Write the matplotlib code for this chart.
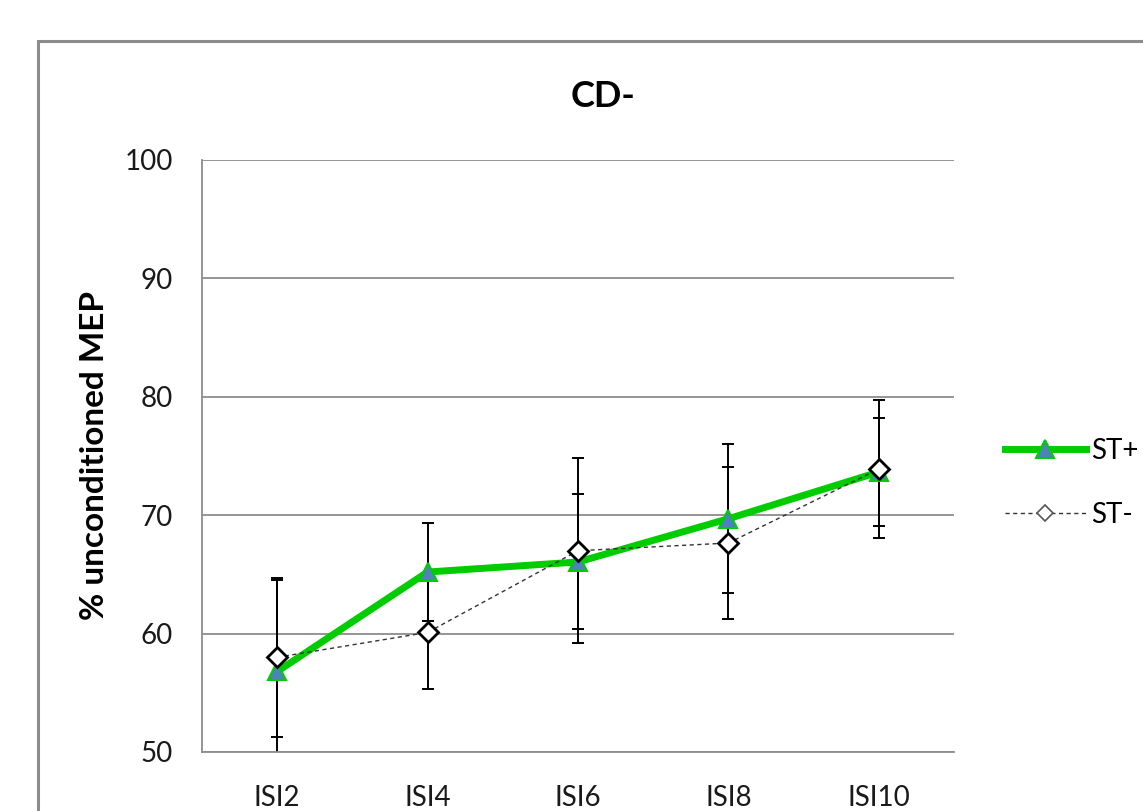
import matplotlib
matplotlib.use('Agg')
import matplotlib.pyplot as plt
from matplotlib.patches import Rectangle

plt.rcParams['font.family'] = ['Lato', 'DejaVu Sans']

categories = ['ISI2', 'ISI4', 'ISI6', 'ISI8', 'ISI10']
st_plus = [56.8, 65.2, 66.05, 69.7, 73.65]
st_plus_err = [7.7, 4.15, 5.7, 6.3, 4.6]
st_minus = [58.0, 60.1, 67.0, 67.65, 73.9]
st_minus_err = [6.7, 4.8, 7.8, 6.45, 5.8]
yticks = [50, 60, 70, 80, 90, 100]

fig = plt.figure(figsize=(11.43, 8.11), dpi=100)

# outer chart-area frame, running off the right and bottom edges
frame = Rectangle((38 / 1143, -0.1), 1.2, 0.1 + (811 - 41) / 811,
                  transform=fig.transFigure, fill=False,
                  edgecolor='#8c8c8c', linewidth=2.2, clip_on=False)
fig.patches.append(frame)

ax = fig.add_axes([202 / 1143, 1 - 752 / 811, 752 / 1143, 592 / 811])
x = list(range(len(categories)))

ax.errorbar(x, st_plus, yerr=st_plus_err, fmt='none', ecolor='black',
            elinewidth=1.4, capsize=4.3, capthick=1.4, zorder=2)
ax.errorbar(x, st_minus, yerr=st_minus_err, fmt='none', ecolor='black',
            elinewidth=1.4, capsize=4.3, capthick=1.4, zorder=2)

ax.plot(x, st_plus, color='#00cc00', linewidth=5, marker='^',
        markersize=13, markerfacecolor='#4f81bd', markeredgecolor='#00cc00',
        markeredgewidth=1.5, label='ST+', zorder=3)
ax.plot(x, st_minus, color='#333333', linewidth=1.0, linestyle=(0, (3, 2.5)),
        marker='D', markersize=10, markerfacecolor='white',
        markeredgecolor='black', markeredgewidth=2, label='ST-', zorder=4)

ax.set_xlim(-0.5, 4.5)
ax.set_ylim(50, 100)
ax.set_xticks(x)
ax.set_xticklabels(categories)
ax.set_yticks(yticks)
ax.tick_params(axis='both', length=0, labelsize=20, colors='#1a1a1a')
ax.tick_params(axis='x', pad=24)
ax.tick_params(axis='y', pad=21)
ax.grid(axis='y', color='#8c8c8c', linewidth=1.3)
ax.set_axisbelow(True)
for side in ['top', 'right']:
    ax.spines[side].set_visible(False)
for side in ['left', 'bottom']:
    ax.spines[side].set_color('#8c8c8c')
    ax.spines[side].set_linewidth(1.3)

# title is centred on the whole chart area, not the plot area
ax.set_title('CD-', fontsize=26, fontweight='bold', pad=38, x=0.533)
ax.set_ylabel('% unconditioned MEP', fontsize=24, fontweight='bold', labelpad=11)

leg = ax.legend(loc='center left', bbox_to_anchor=(1.0346, 0.4544), frameon=False,
                fontsize=20, handlelength=2.9, handletextpad=0.2,
                labelspacing=1.37)
# smaller grey diamond in the key
key = leg.legend_handles[1]
key.set_markersize(8)
key.set_markeredgecolor('#555555')
key.set_markeredgewidth(1.2)

fig.savefig('out.png', dpi=100)
